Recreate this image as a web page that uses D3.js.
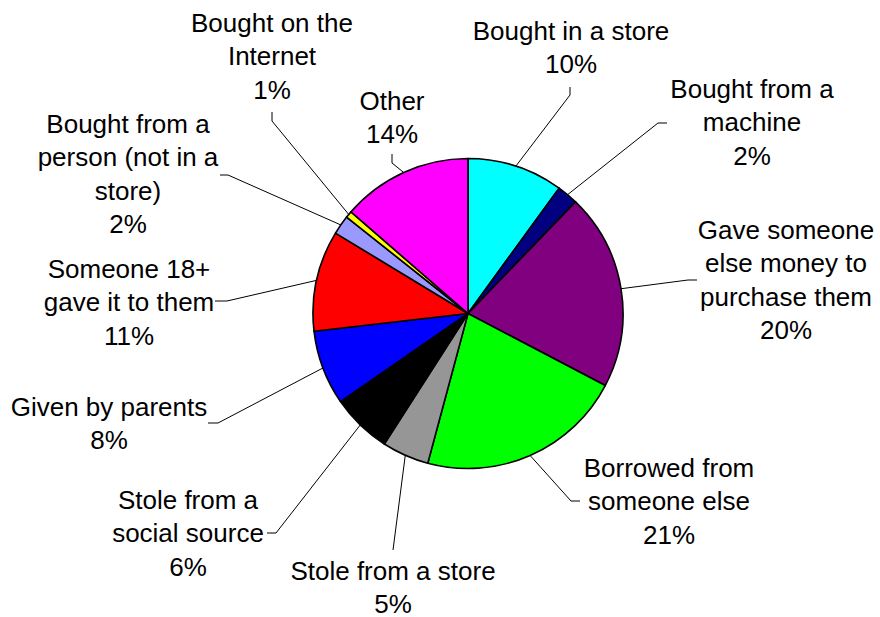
<!DOCTYPE html>
<html>
<head>
<meta charset="utf-8">
<script src="https://cdn.jsdelivr.net/npm/d3@7"></script>
<style>
  body { margin: 0; background: #fff; }
  text { font-family: "Liberation Sans", Arial, sans-serif; font-size: 26px; fill: #000; }
</style>
</head>
<body>
<script>
// slice names (line breaks as in the chart labels)
var categories = [
  "Bought in a store",
  "Bought from a\nmachine",
  "Gave someone\nelse money to\npurchase them",
  "Borrowed from\nsomeone else",
  "Stole from a store",
  "Stole from a\nsocial source",
  "Given by parents",
  "Someone 18+\ngave it to them",
  "Bought from a\nperson (not in a\nstore)",
  "Bought on the\nInternet",
  "Other"
];

// share of each slice, in percent
var values = [10.0, 2.2, 20.49, 21.49, 4.9, 6.3, 7.8, 10.5, 2.0, 0.7, 13.62];

var colors = ["#00ffff", "#000080", "#800080", "#00ff00", "#969696", "#000000",
              "#0000ff", "#ff0000", "#9999ff", "#ffff00", "#ff00ff"];

// where each label sits: centre x, first baseline, leader elbow and leader end
var labelLayout = [
  { x: 571, y: 40,  bx: 570, by: 95,  ex: 570, ey: 87 },
  { x: 752, y: 98,  bx: 658, by: 123, ex: 667, ey: 123 },
  { x: 786, y: 239, bx: 688, by: 280, ex: 697, ey: 280 },
  { x: 669, y: 477, bx: 571, by: 501, ex: 580, ey: 501 },
  { x: 393, y: 580, bx: 393, by: 550, ex: 393, ey: 550 },
  { x: 188, y: 509, bx: 276, by: 533, ex: 267, ey: 533 },
  { x: 109, y: 416, bx: 218, by: 423, ex: 208, ey: 423 },
  { x: 129, y: 278, bx: 227, by: 301, ex: 215, ey: 301 },
  { x: 128, y: 133, bx: 228, by: 175, ex: 220, ey: 175 },
  { x: 272, y: 32,  bx: 272, by: 121, ex: 272, ey: 112 },
  { x: 392, y: 110, bx: 392, by: 163, ex: 392, ey: 154 }
];

var width = 880, height = 617;
var cx = 468, cy = 313.5, radius = 155, lineHeight = 33.3;

var svg = d3.select('body')
    .append('svg')
    .attr('width', width)
    .attr('height', height);

var pie = d3.pie().sort(null).value(function (d) { return d; });
var arcs = pie(values);

var arc = d3.arc().innerRadius(0).outerRadius(radius);

var pieGroup = svg.append('g')
    .attr('transform', 'translate(' + cx + ',' + cy + ')');

pieGroup.selectAll('path')
    .data(arcs)
    .enter()
    .append('path')
    .attr('d', arc)
    .attr('fill', function (d, i) { return colors[i]; })
    .attr('stroke', '#000')
    .attr('stroke-width', 1.6)
    .attr('stroke-linejoin', 'round');

// leader lines: pie edge at mid angle -> elbow -> label
function edgePoint(d) {
  var a = (d.startAngle + d.endAngle) / 2;
  return [cx + radius * Math.sin(a), cy - radius * Math.cos(a)];
}

svg.selectAll('path.leader')
    .data(arcs)
    .enter()
    .append('path')
    .attr('class', 'leader')
    .attr('fill', 'none')
    .attr('stroke', '#000')
    .attr('stroke-width', 1)
    .attr('d', function (d, i) {
      var p = edgePoint(d), L = labelLayout[i];
      return d3.line()([p, [L.bx, L.by], [L.ex, L.ey]]);
    });

// labels: name lines + rounded percent
var labels = svg.selectAll('text.label')
    .data(arcs)
    .enter()
    .append('text')
    .attr('class', 'label')
    .attr('text-anchor', 'middle');

labels.each(function (d, i) {
  var L = labelLayout[i];
  var lines = categories[i].split('\n').concat([Math.round(values[i]) + '%']);
  d3.select(this).selectAll('tspan')
      .data(lines)
      .enter()
      .append('tspan')
      .attr('x', L.x)
      .attr('y', function (t, j) { return L.y + j * lineHeight; })
      .text(function (t) { return t; });
});
</script>
</body>
</html>
